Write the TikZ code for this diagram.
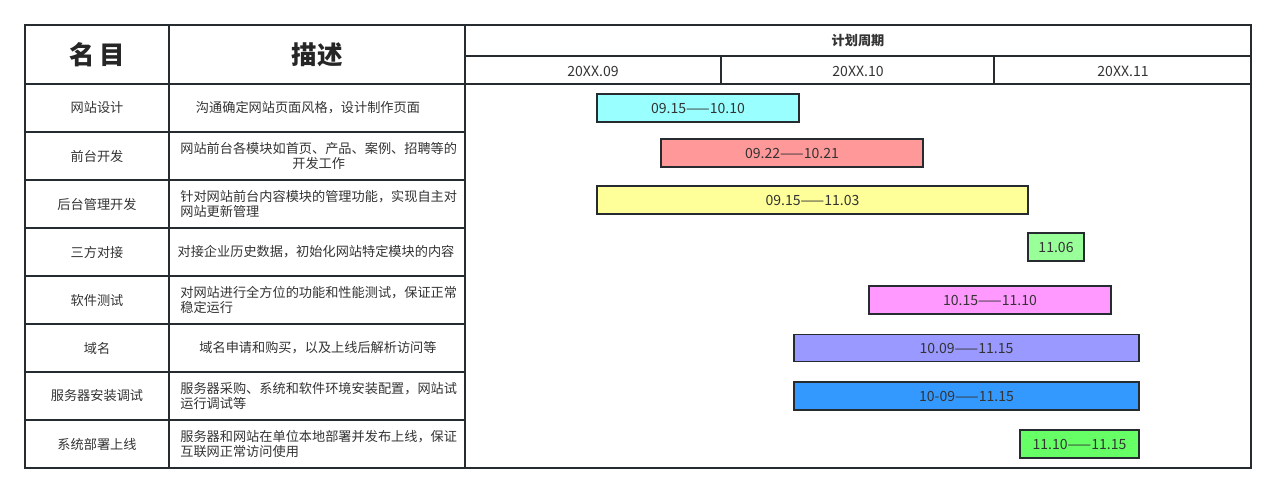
\documentclass[tikz,border=0pt]{standalone}
\usepackage{fontspec}
\setmainfont{Noto Sans CJK SC}
\usetikzlibrary{positioning}
\definecolor{grid}{HTML}{262B30}
\tikzset{
  cell/.style={font=\fontsize{7.5}{9}\selectfont, text=black!80, align=left},
  head/.style={font=\fontsize{14.5}{16}\selectfont\bfseries, text=black!85},
  bar/.style={draw=grid, thick, inner sep=0pt, font=\fontsize{8}{9}\selectfont, text=black!80}
}
\begin{document}
\begin{tikzpicture}[x=0.02cm, y=-0.02cm]
  \useasboundingbox (0,0) rectangle (1275,493);

  % table frame
  \draw [grid, thick] (25,25) rectangle (1251,468);
  \draw [grid, thick] (169,25) -- (169,468);
  \draw [grid, thick] (465,25) -- (465,468);
  \draw [grid, thick] (465,56) -- (1251,56);
  \draw [grid, thick] (721,56) -- (721,84);
  \draw [grid, thick] (994,56) -- (994,84);
  \draw [grid, thick] (25,84) -- (1251,84);
  \foreach \y in {132,180,228,276,324,372,420}
    \draw [grid, thick] (25,\y) -- (465,\y);

  % header
  \node [head]  (name)   at (97,55)   {名\,目};
  \node [head]  (desc)   at (317,55)  {描述};
  \node [cell, font=\fontsize{7.5}{8}\selectfont\bfseries] (plan) at (858,41) {计划周期};
  \node [cell, font=\fontsize{8}{9}\selectfont]  (m09)    at (593,71)  {20XX.09};
  \node [cell, font=\fontsize{8}{9}\selectfont]  (m10)    at (858,71)  {20XX.10};
  \node [cell, font=\fontsize{8}{9}\selectfont]  (m11)    at (1123,71) {20XX.11};

  % rows: names
  \foreach \i/\n in {1/网站设计, 2/前台开发, 3/后台管理开发, 4/三方对接,
                     5/软件测试, 6/域名, 7/服务器安装调试, 8/系统部署上线}
    \node [cell] (n\i) at (97,{60+48*\i}) {\n};

  % rows: descriptions
  \node [cell] (d1) at (308,108) {沟通确定网站页面风格，设计制作页面};
  \node [cell, align=center, anchor=west, inner sep=0pt] (d2) at (180,156) {网站前台各模块如首页、产品、案例、招聘等的\\开发工作};
  \foreach \i/\d in {
      3/针对网站前台内容模块的管理功能，实现自主对\\网站更新管理,
      5/对网站进行全方位的功能和性能测试，保证正常\\稳定运行,
      7/服务器采购、系统和软件环境安装配置，网站试\\运行调试等,
      8/服务器和网站在单位本地部署并发布上线，保证\\互联网正常访问使用}
    \node [cell, anchor=west, inner sep=0pt] (d\i) at (180,{60+48*\i}) {\d};
  \node [cell] (d4) at (316,252) {对接企业历史数据，初始化网站特定模块的内容};
  \node [cell] (d6) at (318,348) {域名申请和购买，以及上线后解析访问等};

  % bars
  \node [bar, fill={rgb,255:red,153;green,255;blue,255}, minimum width=202*0.02cm, minimum height=28*0.02cm] (b1) at (698,108) {09.15——10.10};
  \node [bar, fill={rgb,255:red,255;green,153;blue,153}, minimum width=262*0.02cm, minimum height=28*0.02cm] (b2) at (792,153) {09.22——10.21};
  \node [bar, fill={rgb,255:red,255;green,255;blue,153}, minimum width=431*0.02cm, minimum height=28*0.02cm] (b3) at (812.5,200) {09.15——11.03};
  \node [bar, fill={rgb,255:red,153;green,255;blue,153}, minimum width=56*0.02cm, minimum height=28*0.02cm] (b4) at (1056,247) {11.06};
  \node [bar, fill={rgb,255:red,255;green,153;blue,255}, minimum width=242*0.02cm, minimum height=28*0.02cm] (b5) at (990,300) {10.15——11.10};
  \node [bar, fill={rgb,255:red,153;green,153;blue,255}, minimum width=345*0.02cm, minimum height=27*0.02cm] (b6) at (966.5,348) {10.09——11.15};
  \node [bar, fill={rgb,255:red,51;green,153;blue,255}, minimum width=345*0.02cm, minimum height=28*0.02cm] (b7) at (966.5,396) {10-09——11.15};
  \node [bar, fill={rgb,255:red,102;green,255;blue,102}, minimum width=119*0.02cm, minimum height=28*0.02cm] (b8) at (1079.5,444) {11.10——11.15};
\end{tikzpicture}
\end{document}
